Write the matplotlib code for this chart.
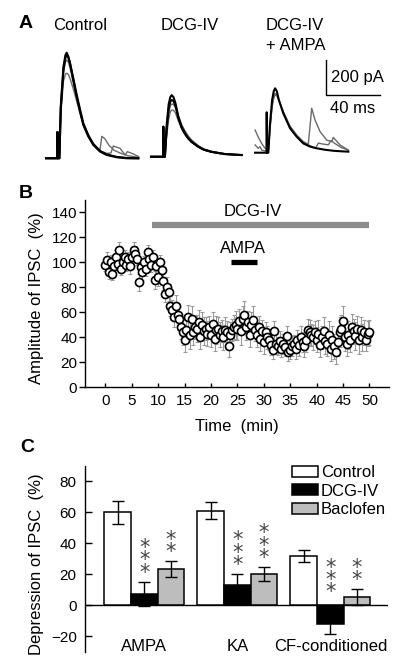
import numpy as np
import matplotlib
matplotlib.use("Agg")
import matplotlib.pyplot as plt
from matplotlib.transforms import offset_copy

plt.rcParams['font.family'] = ['Liberation Sans', 'DejaVu Sans']

# ---------------- DATA ----------------
# Panel A: example IPSC traces (time in ms relative to stimulus, current in pA)
ctrl_t_a = [-8.5, -0.1, 0.0, 0.3, 1.4, 2.4, 4.4, 5.9, 6.8, 8.0, 9.3, 11.7, 14.2, 16.7, 19.1, 22.8, 26.5, 31.5, 36.4, 43.8, 51.2, 59.8]
ctrl_black1 = [0, 0, 150, 0, 0, 295, 522, 589, 602, 580, 541, 446, 351, 266, 190, 124, 76, 38, 19, 6, 0, 0]
ctrl_black2 = [0, 0, 150, 0, 0, 280, 505, 575, 590, 575, 540, 455, 362, 278, 200, 132, 82, 42, 22, 8, 2, 0]
ctrl_t_g1 = [-8.5, -0.1, 0.0, 0.3, 1.4, 2.4, 4.4, 5.9, 6.8, 8.0, 9.3, 11.7, 14.2, 16.7, 19.1, 22.8, 26.5, 30.0, 31.5, 32.8, 35.0, 38.0, 42.0, 47.0, 52.0, 56.0, 60.0]
ctrl_gray1 = [0, 0, 150, 0, 0, 250, 440, 480, 485, 478, 455, 395, 325, 255, 190, 125, 80, 52, 50, 125, 112, 75, 45, 28, 15, 10, 5]
ctrl_t_g2 = [-8.5, -0.1, 0.0, 0.3, 1.4, 2.4, 4.4, 5.9, 6.8, 8.0, 9.3, 11.7, 14.2, 16.7, 19.1, 22.8, 26.5, 31.5, 36.4, 39.5, 41.3, 46.3, 50.0, 51.7, 56.0, 60.0]
ctrl_gray2 = [0, 0, 150, 0, 0, 270, 490, 550, 560, 548, 515, 430, 345, 265, 195, 130, 82, 42, 28, 30, 70, 57, 19, 38, 25, 10]

dcg_t = [-9.1, -0.1, 0.0, 0.3, 1.2, 2.5, 4.0, 5.2, 6.2, 7.5, 9.0, 11.1, 13.5, 16.0, 18.5, 21.0, 25.9, 30.0, 35.8, 45.6, 58.0]
dcg_black1 = [0, 0, 171, 0, 0, 180, 300, 340, 351, 340, 305, 228, 170, 133, 105, 85, 57, 40, 28, 15, 10]
dcg_black2 = [0, 0, 171, 0, 0, 160, 275, 315, 323, 318, 290, 222, 168, 132, 105, 85, 57, 40, 27, 15, 9]
dcg_gray1 = [0, 0, 171, 0, 0, 120, 215, 255, 266, 265, 250, 205, 160, 126, 100, 80, 55, 38, 26, 14, 8]
dcg_gray2 = [0, 0, 171, 0, 0, 140, 250, 290, 300, 298, 282, 235, 185, 148, 118, 95, 63, 44, 30, 16, 9]

ampa_t_b = [-8.6, -0.1, 0.0, 0.3, 1.2, 2.5, 4.0, 5.2, 6.2, 7.5, 9.0, 12.3, 17.3, 22.2, 27.1, 32.0, 37.0, 43.0, 49.3, 55.0, 60.4]
ampa_black = [0, 0, 230, 0, 0, 170, 300, 350, 367, 350, 300, 224, 139, 91, 53, 35, 25, 17, 11, 8, 6]
ampa_t_g1 = [-8.6, -6.0, -3.5, -1.2, -0.1, 0.0, 0.3, 1.2, 2.5, 4.0, 5.2, 6.2, 7.5, 9.0, 12.3, 17.3, 22.2, 27.1, 30.8, 33.3, 35.8, 39.5, 44.4, 48.1, 49.3, 54.3, 60.4]
ampa_gray1 = [129, 85, 50, 25, 20, 230, 20, 20, 150, 270, 320, 338, 330, 300, 230, 150, 100, 62, 48, 253, 186, 120, 72, 63, 87, 44, 15]
ampa_t_g2 = [-8.6, -6.2, -4.9, -3.7, -1.2, -0.1, 0.0, 0.3, 1.2, 2.5, 4.0, 5.2, 6.2, 7.5, 9.0, 12.3, 17.3, 22.2, 27.1, 32.0, 36.0, 38.3, 41.0, 45.6, 47.6, 50.0, 55.0, 60.4]
ampa_gray2 = [44, 25, 34, 15, 10, 10, 230, 10, 10, 140, 260, 310, 330, 325, 300, 235, 150, 100, 62, 40, 25, 55, 50, 45, 70, 55, 30, 15]

trace_titles = ["Control", "DCG-IV", "DCG-IV\n+ AMPA"]
scale_pA = 200
scale_ms = 40

# Panel B: time course (every 20 s)
time_min = [round(i / 3, 3) for i in range(151)]
amplitude = [98, 102, 92, 100, 91, 97, 104, 99, 110, 95, 100, 104, 98, 103, 97, 104, 110, 107, 103, 84,
             96, 92, 100, 95, 108, 103, 98, 104, 86, 97, 88, 100, 94, 85, 75, 80, 76, 65, 62, 56,
             65, 58, 55, 48, 44, 38, 46, 56, 42, 55, 44, 48, 47, 52, 40, 50, 45, 47, 43, 48,
             42, 51, 39, 46, 47, 42, 45, 40, 46, 44, 33, 42, 46, 48, 50, 47, 53, 45, 55, 58,
             48, 52, 42, 50, 54, 46, 42, 48, 39, 45, 36, 44, 40, 38, 34, 30, 45, 35, 33, 37,
             31, 35, 32, 41, 28, 30, 33, 35, 31, 38, 34, 40, 36, 33, 38, 46, 44, 42, 40, 44,
             38, 43, 34, 40, 45, 37, 35, 42, 31, 38, 33, 28, 36, 44, 47, 53, 40, 35, 42, 38,
             48, 45, 41, 47, 38, 46, 40, 44, 38, 43, 44]
amplitude_sem = [5, 6, 5, 6, 5, 5, 6, 5, 6, 5, 5, 6, 5, 5, 6, 5, 6, 6, 5, 7,
                 6, 6, 5, 6, 6, 7, 6, 6, 7, 6, 7, 6, 7, 7, 7, 8, 7, 8, 8, 8,
                 9, 8, 9, 9, 10, 10, 9, 10, 11, 10, 10, 9, 11, 10, 9, 10, 11, 9, 10, 9,
                 10, 9, 10, 11, 9, 10, 9, 10, 10, 9, 9, 10, 9, 10, 11, 9, 10, 11, 10, 11,
                 10, 9, 10, 10, 11, 9, 10, 9, 10, 9, 9, 8, 9, 8, 8, 7, 8, 8, 7, 8,
                 7, 8, 7, 8, 7, 7, 8, 7, 8, 8, 9, 9, 8, 9, 10, 9, 10, 9, 10, 9,
                 10, 11, 10, 9, 11, 10, 10, 11, 10, 11, 10, 9, 11, 12, 11, 12, 11, 10, 11, 10,
                 11, 10, 11, 10, 11, 10, 11, 10, 9, 10, 10]
dcg_period = (8.8, 50.0)
ampa_period = (23.8, 28.7)

# Panel C: grouped bars
groups = ["AMPA", "KA", "CF-conditioned"]
series = ["Control", "DCG-IV", "Baclofen"]
control_vals = [60, 61, 32]
control_err = [7.5, 5.5, 3.8]
dcg_vals = [7.3, 12.9, -12.3]
dcg_err = [8, 7.3, 6.5]
bac_vals = [23.4, 20.2, 5.5]
bac_err = [5.2, 4.5, 5.0]
dcg_sig = ["***", "***", "***"]
bac_sig = ["**", "***", "**"]

# ---------------- FIGURE ----------------
W, H = 400, 672
fig = plt.figure(figsize=(W / 100, H / 100), dpi=100)

def fx(px):
    return px / W

def fy(py):
    return 1 - py / H

LBL = 12
TCK = 11

# ---- Panel A ----
ms_per_px = 0.74
pa_per_px = 5.7
axA_top, axA_bot = 30, 175
base_py = 157
axA = fig.add_axes([0, fy(axA_bot), 1, (axA_bot - axA_top) / H])
axA.set_xlim(0, W * ms_per_px)
axA.set_ylim(-(axA_bot - base_py) * pa_per_px, (base_py - axA_top) * pa_per_px)
axA.axis('off')

stim_px = [57.5, 163.3, 266.7]
base_shift_px = [1.3, -0.3, -4.3]
gray_c = '#6a6a6a'
conds = [
    [(ctrl_t_g1, ctrl_gray1, 'g'), (ctrl_t_g2, ctrl_gray2, 'g'), (ctrl_t_a, ctrl_black2, 'k'), (ctrl_t_a, ctrl_black1, 'k')],
    [(dcg_t, dcg_gray1, 'g'), (dcg_t, dcg_gray2, 'g'), (dcg_t, dcg_black2, 'k'), (dcg_t, dcg_black1, 'k')],
    [(ampa_t_g1, ampa_gray1, 'g'), (ampa_t_g2, ampa_gray2, 'g'), (ampa_t_b, ampa_black, 'k')],
]
for ci, traces in enumerate(conds):
    x0 = stim_px[ci] * ms_per_px
    y0 = -base_shift_px[ci] * pa_per_px
    for t, cur, c in traces:
        tt = np.asarray(t) + x0
        yy = np.asarray(cur) + y0
        if c == 'k':
            axA.plot(tt, yy, color='black', lw=1.5, solid_joinstyle='round')
        else:
            axA.plot(tt, yy, color=gray_c, lw=1.0, solid_joinstyle='round')

# scale bar
sb_x = 326 * ms_per_px
sb_y = (base_py - 95) * pa_per_px
axA.plot([sb_x, sb_x, sb_x + scale_ms], [sb_y + scale_pA, sb_y, sb_y], color='black', lw=1.0)
axA.text(sb_x + 4, sb_y + scale_pA / 2, f"{scale_pA} pA", fontsize=LBL, va='center', ha='left')
axA.text(sb_x + 3, sb_y - 13.3 * pa_per_px, f"{scale_ms} ms", fontsize=LBL, va='center', ha='left')

fig.text(fx(80), fy(25), trace_titles[0], fontsize=LBL, ha='center', va='center')
fig.text(fx(190), fy(25), trace_titles[1], fontsize=LBL, ha='center', va='center')
fig.text(fx(266), fy(35.5), trace_titles[2], fontsize=LBL, ha='left', va='center', linespacing=1.35)

# panel letters
for letter, (px, py) in zip("ABC", [(26, 23), (26, 193), (27, 447)]):
    fig.text(fx(px), fy(py), letter, fontsize=14, fontweight='bold', ha='center', va='center')

# ---- Panel B ----
b_left, b_right, b_top, b_bot = 85, 389, 200, 387.3
axB = fig.add_axes([fx(b_left), fy(b_bot), (b_right - b_left) / W, (b_bot - b_top) / H])
axB.errorbar(time_min, amplitude, yerr=amplitude_sem, fmt='none', ecolor='#9a9a9a',
             elinewidth=0.8, capsize=1.2, capthick=0.8, zorder=1)
axB.plot(time_min, amplitude, 'o', ms=5.8, mfc='white', mec='black', mew=1.2, zorder=3)
axB.plot(dcg_period, [130, 130], color='#8c8c8c', lw=4.5, solid_capstyle='butt')
axB.plot(ampa_period, [100, 100], color='black', lw=3.8, solid_capstyle='butt')
axB.text(28, 140.5, "DCG-IV", fontsize=LBL, ha='center', va='center')
axB.text(26.1, 111, "AMPA", fontsize=LBL, ha='center', va='center')
axB.set_xlim(-3.85, 53.7)
axB.set_ylim(0, 150)
axB.set_xticks(range(0, 51, 5))
axB.set_yticks(range(0, 141, 20))
axB.spines['top'].set_visible(False)
axB.spines['right'].set_visible(False)
for s in ['left', 'bottom']:
    axB.spines[s].set_linewidth(1.0)
axB.tick_params(axis='x', direction='in', length=3, width=1.0, labelsize=TCK, pad=5)
axB.tick_params(axis='y', direction='out', length=4, width=1.0, labelsize=TCK, pad=1.5)
axB.set_xlabel("Time  (min)", fontsize=LBL)
axB.set_ylabel("Amplitude of IPSC  (%)", fontsize=LBL)
axB.xaxis.set_label_coords(0.5, (b_bot - 426) / (b_bot - b_top), transform=axB.transAxes)
axB.xaxis.label.set_va('center')
axB.yaxis.set_label_coords((36.7 - b_left) / (b_right - b_left), 0.475)
axB.yaxis.label.set_va('center')

# ---- Panel C ----
c_left, c_right, c_top, c_bot = 85, 388, 465.8, 651.8
axC = fig.add_axes([fx(c_left), fy(c_bot), (c_right - c_left) / W, (c_bot - c_top) / H])
x = np.arange(len(groups))
w = 0.287
ekw = dict(ecolor='black', elinewidth=1.0, capsize=4.2, capthick=1.0)
axC.bar(x - w, control_vals, w, yerr=control_err, color='white', edgecolor='black', lw=1.1, error_kw=ekw, label=series[0], zorder=2)
axC.bar(x, dcg_vals, w, yerr=dcg_err, color='black', edgecolor='black', lw=1.1, error_kw=ekw, label=series[1], zorder=2)
axC.bar(x + w, bac_vals, w, yerr=bac_err, color='#bdbdbd', edgecolor='black', lw=1.1, error_kw=ekw, label=series[2], zorder=2)
axC.axhline(0, color='black', lw=1.0, zorder=1)
axC.set_xlim(-0.637, 2.62)
axC.set_ylim(-30, 90)
axC.set_yticks(range(-20, 81, 20))
axC.set_xticks([])
for s in ['top', 'right', 'bottom']:
    axC.spines[s].set_visible(False)
axC.spines['left'].set_linewidth(1.0)
axC.tick_params(axis='y', direction='in', length=5, width=1.0, labelsize=TCK, pad=6)
axC.set_ylabel("Depression of IPSC  (%)", fontsize=LBL)
axC.yaxis.set_label_coords((36.7 - c_left) / (c_right - c_left), 0.472)
axC.yaxis.label.set_va('center')
for i, g in enumerate(groups):
    axC.text(i, -26.5, g, fontsize=LBL, ha='center', va='center')

# significance stars (one stacked text per bar)
px2pt = 72 / 100
for vals, errs, sigs, off in [(dcg_vals, dcg_err, dcg_sig, 0.0), (bac_vals, bac_err, bac_sig, w)]:
    for i, (v, e, s) in enumerate(zip(vals, errs, sigs)):
        top = v + e if v >= 0 else 0
        gap = -1 if v >= 0 else 3
        tr = offset_copy(axC.transData, fig=fig, x=0, y=gap * px2pt, units='points')
        axC.text(i + off, top, "\n".join(s), transform=tr, fontsize=15, color='#454545',
                 ha='center', va='bottom', family='DejaVu Sans', linespacing=0.52)

leg = axC.legend(loc='upper left', bbox_to_anchor=((291.7 - c_left) / (c_right - c_left), (c_bot - 465) / (c_bot - c_top)),
                 frameon=False, fontsize=LBL, handlelength=1.55, handleheight=0.62,
                 handletextpad=0.2, labelspacing=0.22, borderpad=0, borderaxespad=0)

fig.savefig("out.png", dpi=100)
